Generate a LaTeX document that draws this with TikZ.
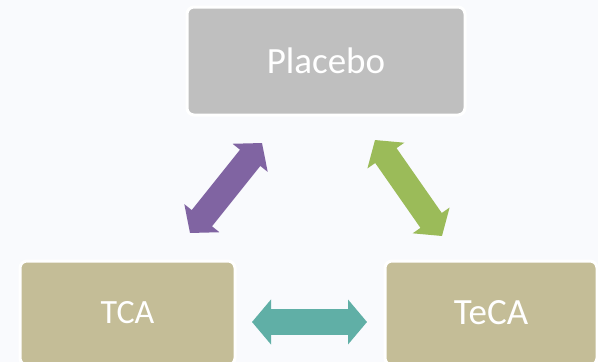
\documentclass[tikz,border=0pt]{standalone}
\usepackage{fontspec}
\setmainfont{Carlito}
\usetikzlibrary{arrows.meta}
\definecolor{bgcol}{RGB}{249,250,253}
\definecolor{greybox}{RGB}{191,191,191}
\definecolor{tanbox}{RGB}{196,189,151}
\definecolor{tealc}{RGB}{96,175,166}
\definecolor{purplec}{RGB}{128,100,162}
\definecolor{greenc}{RGB}{155,187,89}
\tikzset{
  box/.style={draw=white, line width=3pt, rounded corners=7pt, text=white, inner sep=0pt},
  dbl/.style={line width=26pt, {Triangle[length=19pt 0 0,width=44pt 0 0]}-{Triangle[length=19pt 0 0,width=44pt 0 0]}}
}
\begin{document}
\begin{tikzpicture}[x=1pt,y=-1pt]
\fill[bgcol] (0,0) rectangle (598,362);
\useasboundingbox (0,0) rectangle (598,362);
\node[box, fill=greybox, minimum width=278pt, minimum height=108pt, font=\fontsize{37}{40}\selectfont] (placebo) at (326,61) {Placebo};
\node[box, fill=tanbox, minimum width=215pt, minimum height=104pt, font=\fontsize{34}{38}\selectfont] (tca) at (127.5,313) {TCA};
\node[box, fill=tanbox, minimum width=212pt, minimum height=104pt, font=\fontsize{37}{40}\selectfont] (teca) at (491,313) {TeCA};
\coordinate (t1) at (252,322);
\coordinate (t2) at (367,322);
\coordinate (p1) at (262,143);
\coordinate (p2) at (190,233);
\coordinate (g1) at (375,140);
\coordinate (g2) at (442,236);
\draw[dbl, tealc] (t1) -- (t2);
\draw[dbl, purplec] (p1) -- (p2);
\draw[dbl, greenc] (g1) -- (g2);
\end{tikzpicture}
\end{document}
